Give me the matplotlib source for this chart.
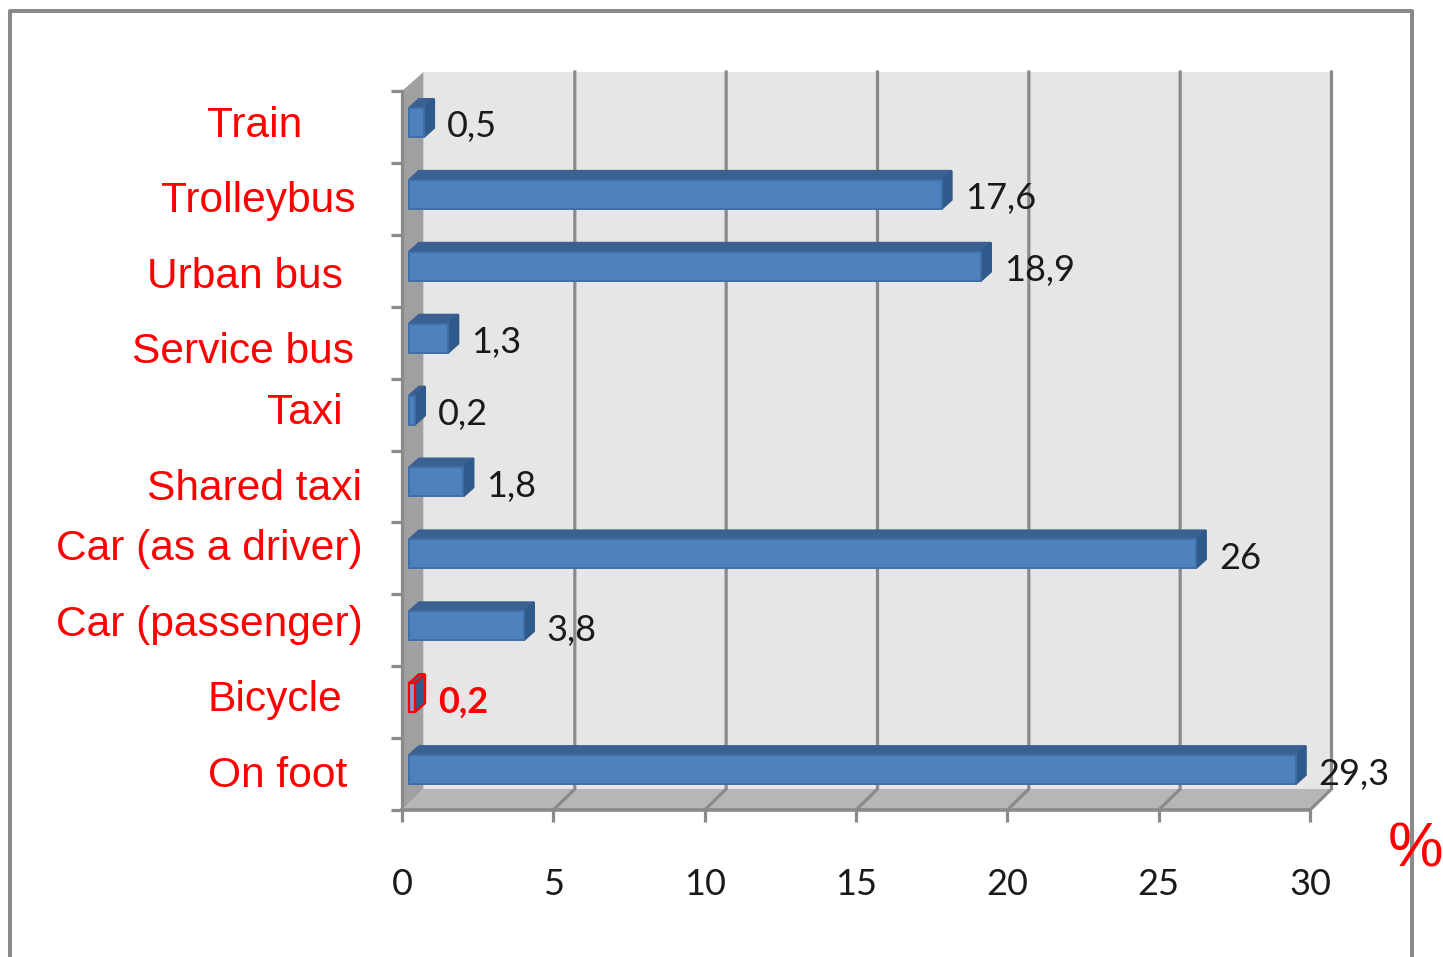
import matplotlib.pyplot as plt
from matplotlib.patches import Polygon
from matplotlib.lines import Line2D

W, H = 1443, 957

modes = ['Train', 'Trolleybus', 'Urban bus', 'Service bus', 'Taxi', 'Shared taxi',
         'Car (as a driver)', 'Car (passenger)', 'Bicycle', 'On foot']
shares = [0.5, 17.6, 18.9, 1.3, 0.2, 1.8, 26, 3.8, 0.2, 29.3]
x_ticks = [0, 5, 10, 15, 20, 25, 30]

# label boxes were placed by hand in the original, so pixel spots (right edge, centre)
label_right = [302, 356, 343, 354, 343, 362, 363, 363, 342, 347]
label_mid = [126, 201, 277, 352, 413, 489, 549, 625, 700, 776]

GRAY = '#8a8a8a'
FRONT = '#4f81bd'
EDGE = '#3f6fa6'
TOP = '#3a6191'
SIDE = '#2f5b8c'

fig = plt.figure(figsize=(W / 100, H / 100), dpi=100, facecolor='white')

# front plane of the fake 3d box
ax = fig.add_axes([402 / W, 1 - 810 / H, 908 / W, 719 / H])
ax.set_xlim(0, 30)
ax.set_ylim(10, 0)
ax.patch.set_alpha(0)
for s in ax.spines.values():
    s.set_visible(False)

ux = 908 / 30   # pixels per x unit
uy = 719 / 10   # pixels per category
dx = 21.5 / ux
dy = 21 / uy
dy_top = 19 / uy

# walls
ax.add_patch(Polygon([(dx, -dy_top), (30 + dx, -dy_top), (30 + dx, 10 - dy), (dx, 10 - dy)],
                     fc='#e6e6e6', ec='none', clip_on=False, zorder=1))
ax.add_patch(Polygon([(0, 0), (dx, -dy_top), (dx, 10 - dy), (0, 10)],
                     fc='#a0a0a0', ec='none', clip_on=False, zorder=2))
ax.add_patch(Polygon([(0, 10), (dx, 10 - dy), (30 + dx, 10 - dy), (30, 10)],
                     fc='#b6b6b6', ec='none', clip_on=False, zorder=2))

# grid on back wall + floor
for t in x_ticks[1:]:
    ax.plot([t + dx, t + dx, t], [-dy_top, 10 - dy, 10], color=GRAY, lw=2.3,
            clip_on=False, zorder=3, solid_joinstyle='miter')
ax.plot([0, 30], [10, 10], color=GRAY, lw=2.6, clip_on=False, zorder=3)
ax.plot([0, 0], [0, 10], color=GRAY, lw=2.3, clip_on=False, zorder=3)

# bars
fx = 7 / ux
fy = -4.5 / uy
bar_h = 29 / uy
ox = 10 / ux
oy = 9 / uy
for i, (m, v) in enumerate(zip(modes, shares)):
    y0 = i + 0.5 + fy - bar_h / 2
    y1 = y0 + bar_h
    x1 = fx + v
    red = m == 'Bicycle'
    ec = 'red' if red else EDGE
    lw = 1.6 if red else 1.4
    ax.add_patch(Polygon([(fx, y0), (fx + ox, y0 - oy), (x1 + ox, y0 - oy), (x1, y0)],
                         fc=TOP, ec='red' if red else TOP, lw=lw, zorder=4, clip_on=False))
    ax.add_patch(Polygon([(x1, y0), (x1 + ox, y0 - oy), (x1 + ox, y1 - oy), (x1, y1)],
                         fc=SIDE, ec='red' if red else SIDE, lw=lw, zorder=4, clip_on=False))
    ax.barh(i + 0.5 + fy, v, left=fx, height=bar_h, color='#7f9fd0' if red else FRONT,
            edgecolor=ec, linewidth=lw, zorder=5, clip_on=False)
    txt = f'{v:g}'.replace('.', ',')
    ax.annotate(txt, (v, i + 0.5), xytext=(21.5, 0), textcoords='offset points',
                ha='left', va='center', family='Lato', fontsize=26,
                color='red' if red else '#1a1a1a', fontweight='bold' if red else 'normal',
                zorder=6, annotation_clip=False)

ax.set_xticks(x_ticks)
ax.set_yticks(range(11))
ax.set_yticklabels([])
ax.xaxis.tick_bottom()
ax.tick_params(axis='x', length=8.6, width=2.3, color=GRAY, pad=33, labelsize=26, labelcolor='#1a1a1a')
ax.tick_params(axis='y', length=8, width=2.3, color=GRAY)
for lab in ax.get_xticklabels():
    lab.set_family('Lato')

# category names
for name, r, c in zip(modes, label_right, label_mid):
    fig.text(r / W, 1 - c / H, name, color='red', family='Liberation Sans', fontsize=30.6,
             ha='right', va='center')

fig.text(1416 / W, 1 - 850 / H, '%', color='red', family='Liberation Sans', fontsize=45,
         ha='center', va='center', zorder=10)

# slide frame, open at the bottom
fig.add_artist(Line2D([10 / W, 10 / W, 1412 / W, 1412 / W], [0, 1 - 11 / H, 1 - 11 / H, 0],
                      color=GRAY, lw=2.9, zorder=0.5))

fig.savefig('out.png', dpi=100)
